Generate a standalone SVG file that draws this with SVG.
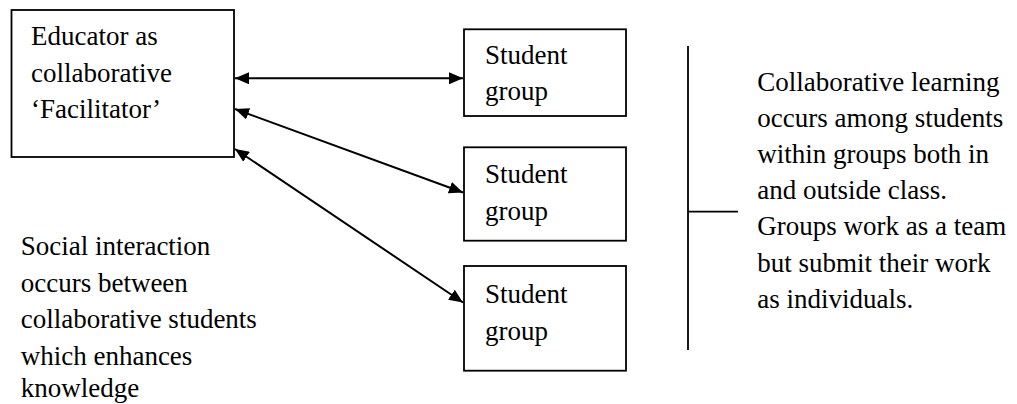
<svg xmlns="http://www.w3.org/2000/svg" width="1017" height="404" viewBox="0 0 1017 404" font-family="Liberation Serif" font-size="27">
<style>
.box{fill:#fff;stroke:#000;stroke-width:1.8}
.c{stroke:#000;stroke-width:2;fill:none}
.ln{stroke:#000;stroke-width:1.8;fill:none}
</style>
<defs>
<marker id="ah" viewBox="0 0 14 12" refX="14" refY="6" markerWidth="14" markerHeight="12" markerUnits="userSpaceOnUse" orient="auto-start-reverse">
<path d="M0,0 L14,6 L0,12 Z" fill="#000"/>
</marker>
</defs>
<rect width="1017" height="404" fill="#fff"/>
<g id="educator" font-family="Liberation Serif" font-size="27">
<rect class="box" x="11.5" y="10" width="222.5" height="147"/>
<text x="31" y="45">Educator as</text>
<text x="31" y="81.7">collaborative</text>
<text x="31" y="118">‘Facilitator’</text>
</g>
<g id="group1" font-family="Liberation Serif" font-size="27">
<rect class="box" x="464" y="29.3" width="162" height="86.7"/>
<text x="485" y="64.3">Student</text>
<text x="485" y="100">group</text>
</g>
<g id="group2" font-family="Liberation Serif" font-size="27">
<rect class="box" x="464" y="147.3" width="162" height="93.4"/>
<text x="485" y="183.3">Student</text>
<text x="485" y="220">group</text>
</g>
<g id="group3" font-family="Liberation Serif" font-size="27">
<rect class="box" x="464" y="266" width="162" height="104.7"/>
<text x="485" y="302.7">Student</text>
<text x="485" y="340">group</text>
</g>
<g id="connectors">
<line class="c" x1="235" y1="78.3" x2="463" y2="78.3" marker-start="url(#ah)" marker-end="url(#ah)"/>
<line class="c" x1="235" y1="109" x2="463" y2="192.5" marker-start="url(#ah)" marker-end="url(#ah)"/>
<line class="c" x1="235" y1="149" x2="463" y2="302.5" marker-start="url(#ah)" marker-end="url(#ah)"/>
</g>
<g id="bracket">
<line class="ln" x1="688" y1="46" x2="688" y2="350"/>
<line class="ln" x1="688" y1="211.7" x2="738" y2="211.7"/>
</g>
<g id="social-text" font-family="Liberation Serif" font-size="27">
<text x="20.7" y="255">Social interaction</text>
<text x="20.7" y="291.7">occurs between</text>
<text x="20.7" y="328">collaborative students</text>
<text x="20.7" y="365">which enhances</text>
<text x="20.7" y="397">knowledge</text>
</g>
<g id="collab-text" font-family="Liberation Serif" font-size="27">
<text x="757.3" y="90.7">Collaborative learning</text>
<text x="757.3" y="126.5">occurs among students</text>
<text x="757.3" y="162.7">within groups both in</text>
<text x="757.3" y="199">and outside class.</text>
<text x="757.3" y="235.3">Groups work as a team</text>
<text x="757.3" y="271.7">but submit their work</text>
<text x="757.3" y="308">as individuals.</text>
</g>
</svg>
